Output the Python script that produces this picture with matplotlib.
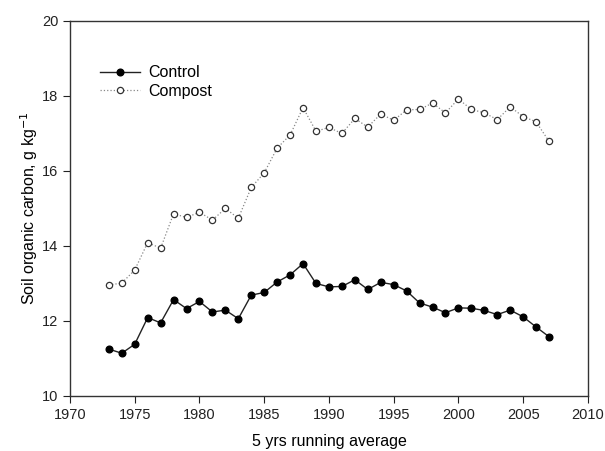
import matplotlib
matplotlib.use("Agg")
import matplotlib.pyplot as plt

# 5-yr running average, soil organic carbon (g/kg)
years = list(range(1973, 2008))
control = [11.25, 11.14, 11.38, 12.09, 11.95, 12.57, 12.33, 12.52, 12.24, 12.29,
           12.06, 12.69, 12.76, 13.04, 13.23, 13.53, 13.00, 12.91, 12.92, 13.10,
           12.84, 13.03, 12.97, 12.80, 12.48, 12.37, 12.22, 12.35, 12.34, 12.28,
           12.17, 12.29, 12.11, 11.84, 11.58]
compost = [12.96, 13.01, 13.36, 14.09, 13.94, 14.86, 14.76, 14.90, 14.69, 15.00,
           14.74, 15.56, 15.95, 16.61, 16.96, 17.69, 17.06, 17.16, 17.00, 17.40,
           17.17, 17.52, 17.35, 17.63, 17.64, 17.81, 17.55, 17.92, 17.64, 17.55,
           17.37, 17.71, 17.45, 17.31, 16.79]

xticks = list(range(1970, 2011, 5))
yticks = list(range(10, 21, 2))

plt.rcParams['font.family'] = ['Liberation Sans', 'DejaVu Sans']

fig = plt.figure(figsize=(6.05, 4.51), dpi=100)
ax = fig.add_axes([0.1157, 0.122, 0.856, 0.8315])

ax.plot(years, control, '-', color='#222222', lw=1.0, marker='o', ms=4.8,
        mfc='black', mec='black', label='Control')
ax.plot(years, compost, ':', color='#888888', lw=0.9, marker='o', ms=4.5,
        mfc='white', mec='#333333', mew=0.9, label='Compost')

ax.set_xlim(1970, 2010)
ax.set_ylim(10, 20)
ax.set_xticks(xticks)
ax.set_yticks(yticks)
ax.tick_params(direction='out', length=5, width=0.8, labelsize=10.5, colors='#222222')
for s in ax.spines.values():
    s.set_linewidth(1.0)
    s.set_color('#333333')

ax.set_xlabel('5 yrs running average', fontsize=11.5, labelpad=9)
ax.set_ylabel('Soil organic carbon, g kg$^{-1}$', fontsize=11.5, labelpad=1)

ax.legend(loc='upper left', bbox_to_anchor=(0.03, 0.92), frameon=False,
          fontsize=11.5, handlelength=2.5, handletextpad=0.5, labelspacing=0.2)

fig.savefig('out.png', dpi=100)
